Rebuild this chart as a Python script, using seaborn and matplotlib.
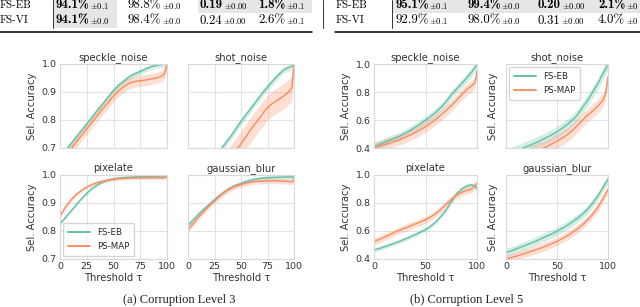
import numpy as np
import pandas as pd
import matplotlib
matplotlib.use("Agg")
import matplotlib.pyplot as plt
import seaborn as sns
from matplotlib.lines import Line2D
from matplotlib.patches import Rectangle

# ---------------- data ----------------
X = [0, 5, 10, 15, 20, 25, 30, 35, 40, 45, 50, 55, 60, 65, 70, 75, 80, 85, 90, 95, 98, 100]
methods = ["FS-EB", "PS-MAP"]
corruptions = ["speckle_noise", "shot_noise", "pixelate", "gaussian_blur"]

# Corruption level 3
l3_speckle_eb = [0.665, 0.69, 0.714, 0.738, 0.762, 0.786, 0.81, 0.835, 0.858, 0.882, 0.905, 0.925, 0.94, 0.955, 0.965, 0.973, 0.982, 0.99, 0.995, 0.998, 0.999, 1.0]
l3_speckle_map = [0.65, 0.672, 0.695, 0.72, 0.744, 0.768, 0.792, 0.816, 0.84, 0.862, 0.885, 0.905, 0.92, 0.932, 0.938, 0.94, 0.943, 0.946, 0.95, 0.956, 0.968, 1.0]
l3_shot_eb = [0.54, 0.565, 0.59, 0.615, 0.64, 0.665, 0.69, 0.715, 0.74, 0.767, 0.795, 0.82, 0.845, 0.87, 0.895, 0.918, 0.94, 0.96, 0.978, 0.988, 0.992, 1.0]
l3_shot_map = [0.45, 0.475, 0.5, 0.53, 0.555, 0.58, 0.61, 0.635, 0.665, 0.69, 0.715, 0.742, 0.77, 0.795, 0.82, 0.845, 0.86, 0.872, 0.885, 0.9, 0.915, 1.0]
l3_pixel_eb = [0.825, 0.848, 0.87, 0.893, 0.915, 0.935, 0.952, 0.965, 0.975, 0.982, 0.986, 0.989, 0.991, 0.992, 0.993, 0.994, 0.995, 0.995, 0.996, 0.996, 0.997, 0.997]
l3_pixel_map = [0.853, 0.885, 0.91, 0.93, 0.945, 0.957, 0.966, 0.973, 0.978, 0.982, 0.985, 0.987, 0.988, 0.989, 0.989, 0.99, 0.99, 0.99, 0.99, 0.99, 0.99, 0.993]
l3_blur_eb = [0.82, 0.84, 0.86, 0.878, 0.895, 0.912, 0.928, 0.942, 0.954, 0.963, 0.97, 0.977, 0.982, 0.986, 0.989, 0.99, 0.991, 0.992, 0.993, 0.993, 0.993, 0.993]
l3_blur_map = [0.805, 0.827, 0.85, 0.87, 0.89, 0.908, 0.925, 0.94, 0.952, 0.96, 0.966, 0.971, 0.975, 0.977, 0.978, 0.979, 0.979, 0.979, 0.978, 0.977, 0.975, 0.985]

# Corruption level 5
l5_speckle_eb = [0.41, 0.425, 0.44, 0.455, 0.47, 0.485, 0.505, 0.525, 0.548, 0.572, 0.598, 0.625, 0.655, 0.69, 0.73, 0.78, 0.82, 0.86, 0.9, 0.945, 0.975, 1.0]
l5_speckle_map = [0.40, 0.412, 0.424, 0.436, 0.448, 0.46, 0.476, 0.492, 0.51, 0.53, 0.552, 0.577, 0.605, 0.635, 0.668, 0.702, 0.74, 0.78, 0.818, 0.845, 0.865, 0.95]
l5_shot_eb = [0.35, 0.365, 0.38, 0.395, 0.41, 0.425, 0.44, 0.458, 0.476, 0.495, 0.516, 0.54, 0.567, 0.598, 0.635, 0.69, 0.74, 0.80, 0.86, 0.93, 0.97, 1.0]
l5_shot_map = [0.30, 0.315, 0.33, 0.345, 0.36, 0.372, 0.384, 0.396, 0.41, 0.43, 0.45, 0.47, 0.495, 0.525, 0.56, 0.60, 0.635, 0.665, 0.70, 0.74, 0.80, 0.91]
l5_pixel_eb = [0.465, 0.475, 0.487, 0.5, 0.513, 0.527, 0.542, 0.558, 0.575, 0.592, 0.61, 0.635, 0.665, 0.705, 0.75, 0.81, 0.865, 0.9, 0.922, 0.93, 0.92, 0.9]
l5_pixel_map = [0.524, 0.54, 0.556, 0.572, 0.59, 0.607, 0.62, 0.635, 0.65, 0.665, 0.68, 0.7, 0.725, 0.755, 0.79, 0.825, 0.855, 0.875, 0.89, 0.9, 0.925, 0.94]
l5_blur_eb = [0.445, 0.458, 0.472, 0.486, 0.5, 0.515, 0.53, 0.547, 0.563, 0.58, 0.598, 0.618, 0.64, 0.665, 0.69, 0.72, 0.755, 0.8, 0.85, 0.91, 0.945, 0.97]
l5_blur_map = [0.40, 0.41, 0.42, 0.432, 0.444, 0.456, 0.468, 0.48, 0.495, 0.51, 0.525, 0.545, 0.565, 0.59, 0.615, 0.645, 0.68, 0.72, 0.77, 0.83, 0.87, 0.895]

# band half-widths (std) per panel: (FS-EB, PS-MAP)
l3_band = {"speckle_noise": (0.01, 0.02), "shot_noise": (0.012, 0.045),
           "pixelate": (0.005, 0.006), "gaussian_blur": (0.007, 0.01)}
l5_band = {"speckle_noise": (0.03, 0.04), "shot_noise": (0.04, 0.05),
           "pixelate": (0.015, 0.025), "gaussian_blur": (0.03, 0.03)}

level3 = {"speckle_noise": (l3_speckle_eb, l3_speckle_map), "shot_noise": (l3_shot_eb, l3_shot_map),
          "pixelate": (l3_pixel_eb, l3_pixel_map), "gaussian_blur": (l3_blur_eb, l3_blur_map)}
level5 = {"speckle_noise": (l5_speckle_eb, l5_speckle_map), "shot_noise": (l5_shot_eb, l5_shot_map),
          "pixelate": (l5_pixel_eb, l5_pixel_map), "gaussian_blur": (l5_blur_eb, l5_blur_map)}

# table rows
left_rows = [("FS-EB", [("94.1%", "0.1", True), ("98.8%", "0.0", False), ("0.19", "0.00", True), ("1.8%", "0.1", True)]),
             ("FS-VI", [("94.1%", "0.0", True), ("98.4%", "0.0", False), ("0.24", "0.00", False), ("2.6%", "0.1", False)])]
right_rows = [("FS-EB", [("95.1%", "0.1", True), ("99.4%", "0.0", True), ("0.20", "0.00", True), ("2.1%", "0", True)]),
              ("FS-VI", [("92.9%", "0.1", False), ("98.0%", "0.0", False), ("0.31", "0.00", False), ("4.0%", "0", False)])]

# ---------------- style ----------------
sns.set_theme(style="whitegrid")
plt.rcParams["font.family"] = ["DejaVu Sans"]
plt.rcParams["mathtext.fontset"] = "cm"
plt.rcParams["axes.edgecolor"] = "#d9d9d9"
plt.rcParams["grid.color"] = "#e3e3e3"
plt.rcParams["grid.linewidth"] = 0.8
colors = {"FS-EB": "#66c2a5", "PS-MAP": "#fc8d62"}

W, H = 640, 307
fig = plt.figure(figsize=(W / 100, H / 100), dpi=100)


def add_ax(x0, y0, x1, y1):
    return fig.add_axes([x0 / W, 1 - y1 / H, (x1 - x0) / W, (y1 - y0) / H])


def draw_panel(ax, name, series, band, ylim, yticks, xticks, show_y, show_x, ylabel):
    df = pd.DataFrame({"Threshold": X * 2,
                       "acc": list(series[0]) + list(series[1]),
                       "method": ["FS-EB"] * len(X) + ["PS-MAP"] * len(X)})
    for m, b in zip(methods, band):
        sub = df[df.method == m]
        ax.fill_between(sub["Threshold"], sub["acc"] - b, sub["acc"] + b,
                        color=colors[m], alpha=0.28, lw=0)
    sns.lineplot(data=df, x="Threshold", y="acc", hue="method", palette=colors,
                 ax=ax, legend=False, lw=1.05)
    ax.set_xlim(0, 100)
    ax.set_ylim(*ylim)
    ax.set_yticks(yticks)
    ax.set_xticks(xticks)
    ax.tick_params(length=0, pad=2.5, labelsize=6.8, colors="#333333")
    if not show_y:
        ax.set_yticklabels([])
    else:
        ax.set_yticklabels([f"{t:.1f}" for t in yticks])
    if not show_x:
        ax.set_xticklabels([])
        ax.set_xlabel("")
    else:
        ax.set_xticklabels([str(t) for t in xticks])
        ax.set_xlabel("Threshold τ", fontsize=7.2, labelpad=1, color="#333333")
    ax.set_ylabel("Sel. Accuracy" if ylabel else "", fontsize=7.2, labelpad=3, color="#333333")
    ax.set_title(name, fontsize=7.2, pad=3, color="#333333")
    for s in ax.spines.values():
        s.set_linewidth(0.8)


pos3 = {"speckle_noise": (60, 64, 167, 148), "shot_noise": (188, 64, 294, 148),
        "pixelate": (60, 175, 167, 259), "gaussian_blur": (188, 175, 294, 259)}
pos5 = {"speckle_noise": (374, 64, 477, 148), "shot_noise": (506, 64, 608, 148),
        "pixelate": (374, 175, 477, 259), "gaussian_blur": (506, 175, 608, 259)}

axes3, axes5 = {}, {}
for i, c in enumerate(corruptions):
    left = i % 2 == 0
    bottom = i >= 2
    ax = add_ax(*pos3[c])
    draw_panel(ax, c, level3[c], l3_band[c], (0.7, 1.0), [0.7, 0.8, 0.9, 1.0],
               [0, 25, 50, 75, 100], left, bottom, left)
    axes3[c] = ax
    ax = add_ax(*pos5[c])
    draw_panel(ax, c, level5[c], l5_band[c], (0.4, 1.0), [0.4, 0.6, 0.8, 1.0],
               [0, 50, 100], left, bottom, True)
    axes5[c] = ax

handles = [Line2D([], [], color=colors[m], lw=1.4) for m in methods]
for ax, loc in [(axes3["pixelate"], "lower left"), (axes5["shot_noise"], "upper left")]:
    leg = ax.legend(handles, methods, loc=loc, fontsize=6.2, frameon=True,
                    borderaxespad=0.3, handlelength=2.6, labelspacing=0.6, borderpad=0.6)
    leg.get_frame().set_edgecolor("#cccccc")

# captions
fig.text(179 / W, 1 - 300 / H, "(a) Corruption Level 3", ha="center", va="center",
         fontsize=9, family="Liberation Serif", color="#222222")
fig.text(467 / W, 1 - 300 / H, "(b) Corruption Level 5", ha="center", va="center",
         fontsize=9, family="Liberation Serif", color="#222222")

# ---------------- table fragment ----------------
gray = "#e6e6e6"


def rect(x0, y0, x1, y1):
    fig.patches.append(Rectangle((x0 / W, 1 - y1 / H), (x1 - x0) / W, (y1 - y0) / H,
                                 transform=fig.transFigure, color=gray, lw=0, zorder=0))


def hline(x0, x1, y, lw):
    fig.add_artist(Line2D([x0 / W, x1 / W], [1 - y / H, 1 - y / H], color="black", lw=lw,
                          transform=fig.transFigure))


def vline(x, y0, y1, lw=0.7):
    fig.add_artist(Line2D([x / W, x / W], [1 - y0 / H, 1 - y1 / H], color="#333333", lw=lw,
                          transform=fig.transFigure))


rect(53, 0, 117, 28)
rect(198, 0, 312, 13)
rect(392, 0, 640, 13)
hline(0, 312, 32, 1.1)
hline(335, 640, 32, 1.1)
vline(53, 0, 28)
vline(323, 0, 28)
vline(392, 0, 28)

fig.canvas.draw()
renderer = fig.canvas.get_renderer()


def cell(x, y, main, pm, bold):
    t = fig.text(x / W, 1 - y / H, main, ha="left", va="center", fontsize=9.3,
                 family="cmb10" if bold else "cmr10", color="black")
    bb = t.get_window_extent(renderer=renderer)
    fig.text(bb.x1 / W + 0.001, 1 - (y + 0.8) / H, r"$\pm$" + pm, ha="left", va="center",
             fontsize=6.3, family="cmr10", color="black")


def table(rows, label_x, xs):
    for (label, cells), y in zip(rows, [5.5, 20.5]):
        fig.text(label_x / W, 1 - y / H, label, ha="left", va="center", fontsize=7.8,
                 family="cmr10", color="black")
        for (main, pm, bold), x in zip(cells, xs):
            cell(x, y, main, pm, bold)


table(left_rows, 0, [56, 128, 200, 258])
table(right_rows, 336, [395, 467, 538, 598])

fig.savefig("out.png", dpi=100)
